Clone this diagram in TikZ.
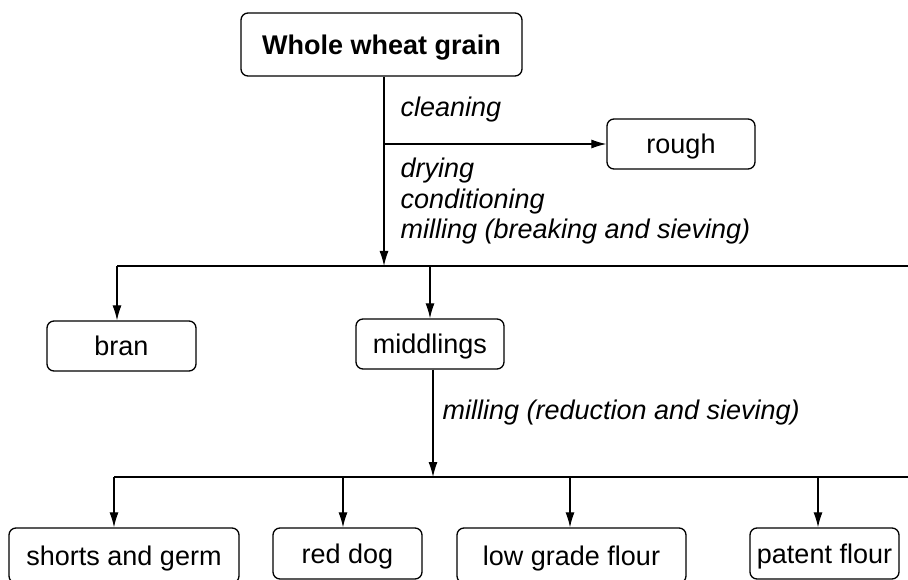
\documentclass[tikz,border=0pt]{standalone}
\usepackage{fontspec}
\setmainfont{Liberation Sans}
\usetikzlibrary{arrows.meta}

\tikzset{
  stage/.style={draw, line width=1.3pt, rounded corners=7pt, inner sep=0pt,
    text height=19pt, text depth=0pt, font=\fontsize{27}{30}\selectfont},
  oper/.style={anchor=base west, inner sep=0pt, align=left,
    font=\fontsize{27}{30.5}\selectfont\itshape},
}

\begin{document}
\begin{tikzpicture}[x=1pt, y=-1pt, >={Latex[length=15pt,width=9pt]}, line width=1.2pt]
        \useasboundingbox (0,0) rectangle (908,580);
        \clip (0,0) rectangle (908,580);
        % boxes
        \node[stage, minimum width=281pt, minimum height=63pt, text height=20pt, font=\fontsize{27}{30}\selectfont\bfseries] (grain) at (381.5,44.5) {Whole wheat grain};
        \node[stage, minimum width=148pt, minimum height=50pt] (rough) at (681,144) {rough};
        \node[stage, minimum width=149pt, minimum height=50pt] (bran) at (121.5,346) {bran};
        \node[stage, minimum width=148pt, minimum height=50pt] (middl) at (430,344) {middlings};
        \node[stage, minimum width=230pt, minimum height=55pt] (shorts) at (124,555.5) {shorts and germ};
        \node[stage, minimum width=149pt, minimum height=51pt] (reddog) at (347.5,553.5) {red dog};
        \node[stage, minimum width=229pt, minimum height=55pt] (lowgrade) at (571.5,555.5) {low grade flour};
        \node[stage, minimum width=149pt, minimum height=51pt] (patent) at (824.5,553.5) {patent flour};
        % operations
        \node[oper] (clean) at (400,117) {cleaning};
        \node[oper, anchor=north west] (prep) at (400,157.5) {drying\\conditioning\\milling (breaking and sieving)};
        \node[oper] (reduc) at (442,419) {milling (reduction and sieving)};
        % first split
        \coordinate (fork1) at (384,144);
        \coordinate (split1) at (384,266);
        \draw[->] (grain.south -| split1) -- (split1);
        \draw[->] (fork1) -- (rough);
        \draw (117,266) -- (915,266);
        \draw[->] (117,266) -- (117,0 |- bran.north);
        \draw[->] (middl.north |- split1) -- (middl);
        % second split
        \coordinate (split2) at (433,477);
        \draw[->] (middl.south -| split2) -- (split2);
        \draw (114,477) -- (915,477);
        \foreach \n/\x in {shorts/114, reddog/343, lowgrade/570, patent/818}
            \draw[->] (\x,477) -- (\x,0 |- \n.north);
    \end{tikzpicture}
\end{document}
